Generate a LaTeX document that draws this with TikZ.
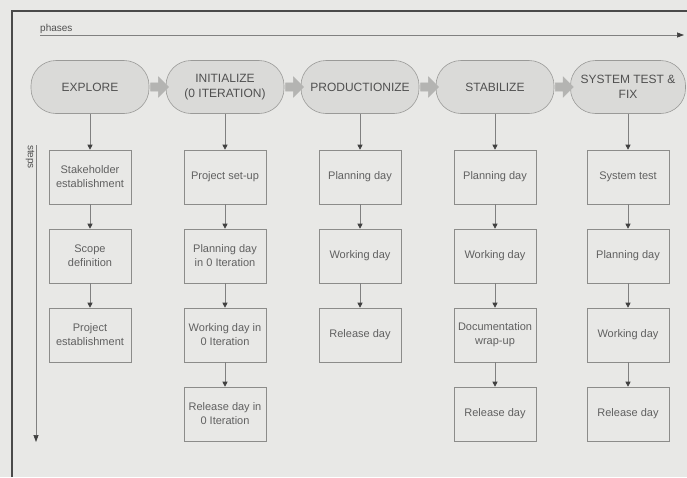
\documentclass[tikz,border=0pt]{standalone}
\usepackage{fontspec}
\setmainfont{Liberation Sans}
\usetikzlibrary{arrows.meta,shapes.arrows,calc}
\definecolor{bg}{HTML}{E8E8E6}
\definecolor{phasefill}{HTML}{DADAD8}
\definecolor{phaseborder}{HTML}{9A9A98}
\definecolor{boxborder}{HTML}{8C8C8A}
\definecolor{txt}{HTML}{505050}
\definecolor{txttwo}{HTML}{606060}
\definecolor{linecol}{HTML}{808080}
\definecolor{tipcol}{HTML}{404040}
\definecolor{arrowfill}{HTML}{B4B4B2}
\definecolor{framecol}{HTML}{4A4A4A}
\begin{document}
\begin{tikzpicture}[x=1pt,y=-1pt,
  phase/.style={draw=phaseborder, fill=phasefill, rounded corners=25pt,
    minimum width=118pt, minimum height=53pt, align=center,
    font=\fontsize{12}{15}\selectfont, text=txt, inner sep=2pt, line width=0.6pt},
  stepbox/.style={draw=boxborder, minimum width=82pt, minimum height=54pt,
    align=center, font=\fontsize{11}{14}\selectfont, text=txttwo,
    inner sep=2pt, line width=0.6pt},
  link/.style={draw=linecol, line width=0.6pt,
    -{Triangle[length=5pt,width=5pt,color=tipcol]}},
  axis/.style={draw=linecol, line width=0.7pt,
    -{Triangle[length=7pt,width=5pt,color=tipcol]}},
  blockarrow/.style={single arrow, fill=arrowfill, draw=arrowfill,
    inner sep=4pt, single arrow head extend=6pt, minimum height=18pt,
    minimum width=20pt, anchor=center},
  lbl/.style={font=\fontsize{10}{12}\selectfont, text=txt, inner sep=0pt}
]
\useasboundingbox (0,0) rectangle (687,477);
\fill[bg] (0,0) rectangle (687,477);

% frame
\draw[framecol, line width=1.3pt] (12,477) -- (12,11) -- (687,11);

% axes
\coordinate (phA) at (40,35);
\coordinate (phB) at (684,35);
\draw[axis] (phA) -- (phB);
\node[lbl, anchor=base west] (phlbl) at (40,31) {phases};

\coordinate (stA) at (36,145);
\coordinate (stB) at (36,442);
\draw[axis] (stA) -- (stB);
\node[lbl, rotate=-90] (stlbl) at (30,157) {steps};

% phases
\node[phase] (p1) at (90,87) {EXPLORE};
\node[phase] (p2) at (225,87) {INITIALIZE\\(0 ITERATION)};
\node[phase] (p3) at (360,87) {PRODUCTIONIZE};
\node[phase] (p4) at (495,87) {STABILIZE};
\node[phase, minimum width=115pt] (p5) at (628,87) {SYSTEM TEST \&\\FIX};

\node[blockarrow] (a12) at ($(p1.east)!0.5!(p2.west)$) {};
\node[blockarrow] (a23) at ($(p2.east)!0.5!(p3.west)$) {};
\node[blockarrow] (a34) at ($(p3.east)!0.5!(p4.west)$) {};
\node[blockarrow] (a45) at ($(p4.east)!0.5!(p5.west)$) {};

% column 1
\node[stepbox] (e1) at (90,177) {Stakeholder\\establishment};
\node[stepbox] (e2) at (90,256) {Scope\\definition};
\node[stepbox] (e3) at (90,335) {Project\\establishment};
% column 2
\node[stepbox] (i1) at (225,177) {Project set-up};
\node[stepbox] (i2) at (225,256) {Planning day\\in 0 Iteration};
\node[stepbox] (i3) at (225,335) {Working day in\\0 Iteration};
\node[stepbox] (i4) at (225,414) {Release day in\\0 Iteration};
% column 3
\node[stepbox] (r1) at (360,177) {Planning day};
\node[stepbox] (r2) at (360,256) {Working day};
\node[stepbox] (r3) at (360,335) {Release day};
% column 4
\node[stepbox] (s1) at (495,177) {Planning day};
\node[stepbox] (s2) at (495,256) {Working day};
\node[stepbox] (s3) at (495,335) {Documentation\\wrap-up};
\node[stepbox] (s4) at (495,414) {Release day};
% column 5
\node[stepbox] (t1) at (628,177) {System test};
\node[stepbox] (t2) at (628,256) {Planning day};
\node[stepbox] (t3) at (628,335) {Working day};
\node[stepbox] (t4) at (628,414) {Release day};

% links
\draw[link] (p1.south) -- (e1.north);
\draw[link] (e1) -- (e2);
\draw[link] (e2) -- (e3);
\draw[link] (p2.south) -- (i1.north);
\draw[link] (i1) -- (i2);
\draw[link] (i2) -- (i3);
\draw[link] (i3) -- (i4);
\draw[link] (p3.south) -- (r1.north);
\draw[link] (r1) -- (r2);
\draw[link] (r2) -- (r3);
\draw[link] (p4.south) -- (s1.north);
\draw[link] (s1) -- (s2);
\draw[link] (s2) -- (s3);
\draw[link] (s3) -- (s4);
\draw[link] (p5.south) -- (t1.north);
\draw[link] (t1) -- (t2);
\draw[link] (t2) -- (t3);
\draw[link] (t3) -- (t4);
\end{tikzpicture}
\end{document}
